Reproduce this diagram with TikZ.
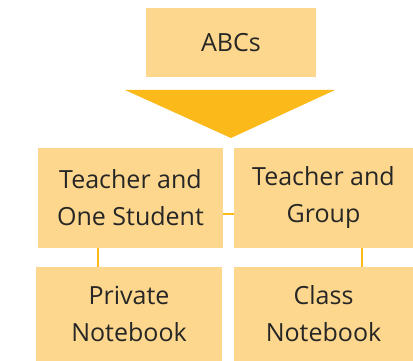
\documentclass[tikz,border=0pt]{standalone}
\usepackage{fontspec}
\setmainfont{Open Sans}
\definecolor{boxfill}{HTML}{FDD78D}
\definecolor{accent}{HTML}{FBBA19}
\definecolor{txt}{HTML}{262626}
\begin{document}
\begin{tikzpicture}[x=1pt,y=-1pt,
  box/.style={fill=boxfill,draw=none,inner sep=0pt,text=txt,align=center,
    font=\fontsize{25}{37}\selectfont},
  link/.style={draw=accent,line width=2.5pt}]
\useasboundingbox (0,0) rectangle (413,361);
\node[box,minimum width=170pt,minimum height=69pt] (abc) at (231,42.5) {ABCs};
\path[fill=accent] (125,90) -- (335,90) -- (231,138) -- cycle;
\node[box,minimum width=185pt,minimum height=100pt] (tos) at (130.5,198) {Teacher and\\One Student};
\node[box,minimum width=179pt,minimum height=100pt] (tg) at (323.5,198) {Teacher and\\Group};
\node[box,minimum width=186pt,minimum height=94pt] (pn) at (129,314) {Private\\Notebook};
\node[box,minimum width=179pt,minimum height=94pt] (cn) at (323.5,314) {Class\\Notebook};
\draw[link] (tos.east |- 0,214) -- (tg.west |- 0,214);
\draw[link] (tos.south -| 98,0) -- (pn.north -| 98,0);
\draw[link] (tg.south -| 362,0) -- (cn.north -| 362,0);
\end{tikzpicture}
\end{document}
